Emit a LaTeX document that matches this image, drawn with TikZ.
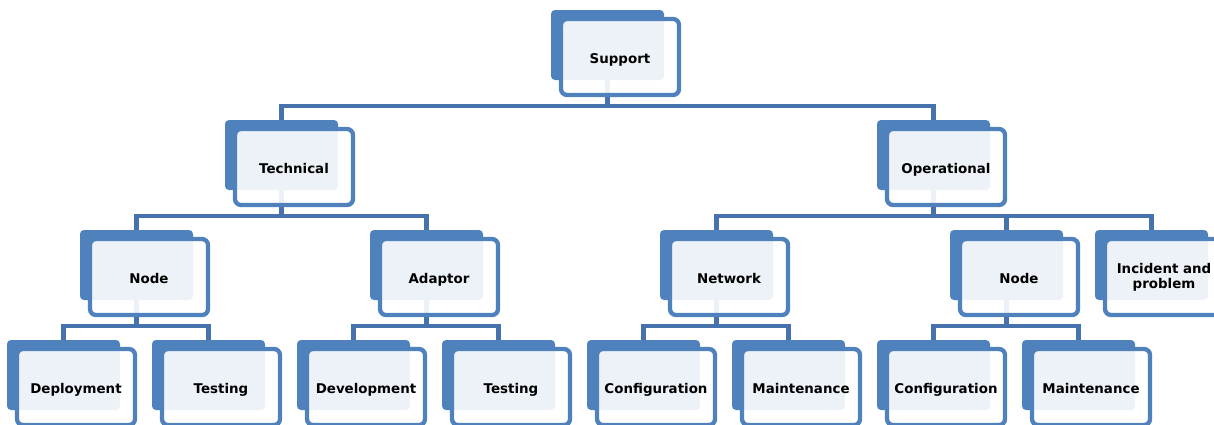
\documentclass[tikz,border=0pt]{standalone}
\usepackage{fontspec}
\setmainfont{DejaVu Sans}
\definecolor{boxblue}{HTML}{4F81BD}
\definecolor{linkblue}{HTML}{4672AE}
\pgfdeclarelayer{bg}
\pgfsetlayers{bg,main}
\tikzset{
  backbox/.style={rectangle, rounded corners=4pt, fill=boxblue, minimum width=113pt, minimum height=70pt, inner sep=0pt, anchor=center},
  frontbox/.style={rectangle, rounded corners=6pt, draw=boxblue, line width=4.3pt, fill=white, fill opacity=0.9, minimum width=118pt, minimum height=76pt, inner sep=0pt, anchor=center},
  boxtext/.style={inner sep=0pt, anchor=center, align=center, font=\fontsize{13.4}{15}\selectfont\bfseries},
  onetext/.style={text height=10pt, text depth=3pt},
  link/.style={draw=linkblue, line width=4.5pt},
}
\newcommand\mkorgbox[5][onetext]{%
  \node[backbox] (#2) at (#3+56.5,#4+35) {};
  \node[frontbox] (#2-f) at (#3+69,#4+47) {};
  \node[boxtext,#1] (#2-t) at (#3+69,#4+49.5) {#5};
}
\newcommand\mklink[2]{%
  \begin{pgfonlayer}{bg}
  \draw[link] (#1.south) |- ([yshift=14pt]#2.north) -- (#2.north);
  \end{pgfonlayer}
}
\begin{document}
\begin{tikzpicture}[x=1pt,y=-1pt]
\useasboundingbox (0,0) rectangle (1214,424);
\clip (0,0) rectangle (1214,424);
\mkorgbox{sup}{551}{10}{Support}
\mkorgbox{tech}{225}{120}{Technical}
\mkorgbox{oper}{877}{120}{Operational}
\mkorgbox{nodea}{80}{230}{Node}
\mkorgbox{adap}{370}{230}{Adaptor}
\mkorgbox{netw}{660}{230}{Network}
\mkorgbox{nodeb}{950}{230}{Node}
\mkorgbox[yshift=2pt]{inc}{1095}{230}{Incident and\\problem}
\mkorgbox{dep}{7}{340}{Deployment}
\mkorgbox{testa}{152}{340}{Testing}
\mkorgbox{dev}{297}{340}{Development}
\mkorgbox{testb}{442}{340}{Testing}
\mkorgbox{confa}{587}{340}{Configuration}
\mkorgbox{mainta}{732}{340}{Maintenance}
\mkorgbox{confb}{877}{340}{Configuration}
\mkorgbox{maintb}{1022}{340}{Maintenance}
\mklink{sup}{tech}
\mklink{sup}{oper}
\mklink{tech}{nodea}
\mklink{tech}{adap}
\mklink{oper}{netw}
\mklink{oper}{nodeb}
\mklink{oper}{inc}
\mklink{nodea}{dep}
\mklink{nodea}{testa}
\mklink{adap}{dev}
\mklink{adap}{testb}
\mklink{netw}{confa}
\mklink{netw}{mainta}
\mklink{nodeb}{confb}
\mklink{nodeb}{maintb}
\end{tikzpicture}
\end{document}
